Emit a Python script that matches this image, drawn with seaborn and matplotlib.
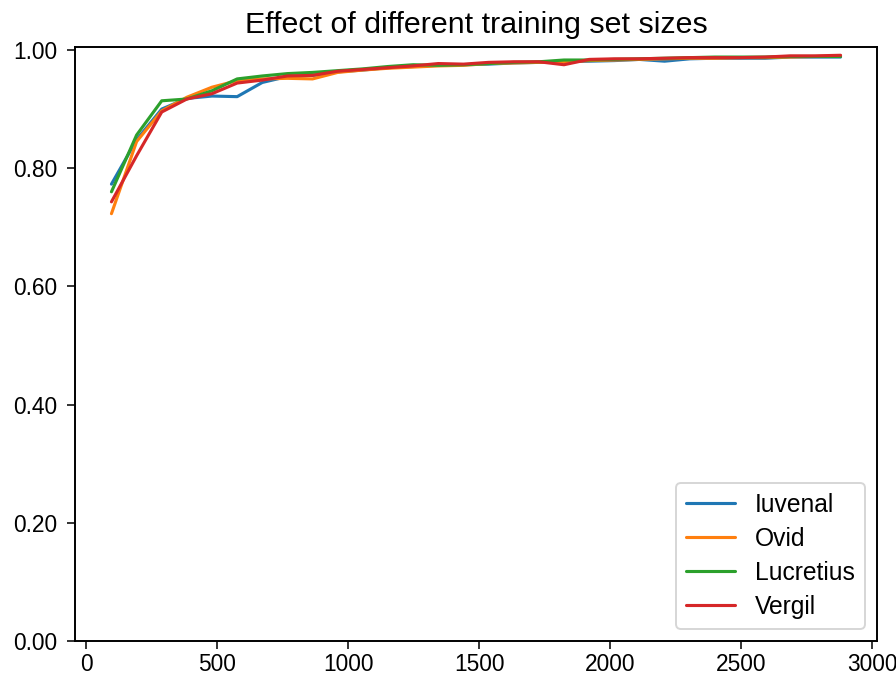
import matplotlib
matplotlib.use("Agg")
import matplotlib.pyplot as plt
import seaborn as sns
import numpy as np
import pandas as pd
from matplotlib.ticker import FormatStrFormatter

sizes = [96 * k for k in range(1, 31)]

iuvenal = [0.773, 0.848, 0.900, 0.918, 0.922, 0.921, 0.945, 0.955, 0.957, 0.963,
           0.966, 0.970, 0.972, 0.974, 0.975, 0.976, 0.978, 0.979, 0.980, 0.981,
           0.982, 0.984, 0.981, 0.985, 0.986, 0.986, 0.986, 0.988, 0.988, 0.988]
ovid = [0.723, 0.845, 0.897, 0.920, 0.937, 0.948, 0.951, 0.952, 0.951, 0.962,
        0.966, 0.969, 0.971, 0.973, 0.974, 0.977, 0.978, 0.979, 0.980, 0.982,
        0.983, 0.984, 0.985, 0.986, 0.986, 0.987, 0.987, 0.988, 0.989, 0.990]
lucretius = [0.760, 0.856, 0.914, 0.917, 0.931, 0.951, 0.956, 0.960, 0.962, 0.965,
             0.968, 0.972, 0.975, 0.974, 0.975, 0.977, 0.979, 0.980, 0.983, 0.983,
             0.984, 0.985, 0.986, 0.987, 0.988, 0.988, 0.988, 0.989, 0.989, 0.989]
vergil = [0.743, 0.821, 0.895, 0.917, 0.926, 0.944, 0.949, 0.956, 0.957, 0.964,
          0.967, 0.970, 0.973, 0.977, 0.976, 0.979, 0.980, 0.980, 0.975, 0.984,
          0.985, 0.985, 0.986, 0.987, 0.987, 0.987, 0.988, 0.990, 0.990, 0.991]

names = ["Iuvenal", "Ovid", "Lucretius", "Vergil"]
series = [iuvenal, ovid, lucretius, vergil]

sns.set_style("ticks", {"axes.edgecolor": "black", "text.color": "black",
                        "xtick.color": "black", "ytick.color": "black",
                        "axes.labelcolor": "black"})
plt.rcParams['font.family'] = ['Liberation Sans', 'DejaVu Sans']
plt.rcParams['font.size'] = 11.7
plt.rcParams['xtick.labelsize'] = 11.7
plt.rcParams['ytick.labelsize'] = 11.7
plt.rcParams['axes.titlesize'] = 15.6
plt.rcParams['legend.fontsize'] = 12.7
plt.rcParams['axes.linewidth'] = 1.0
plt.rcParams['xtick.major.size'] = 4.0
plt.rcParams['ytick.major.size'] = 4.0
plt.rcParams['xtick.major.pad'] = 2.2
plt.rcParams['ytick.major.pad'] = 5.0

fig = plt.figure(figsize=(6.4, 678 / 140), dpi=140)
ax = fig.add_axes([75 / 896, 1 - 641 / 678, (877 - 75) / 896, (641 - 47) / 678])

palette = sns.color_palette("tab10", 4)
for name, vals, col in zip(names, series, palette):
    sns.lineplot(x=sizes, y=vals, ax=ax, label=name, color=col, linewidth=1.6)

ax.set_ylim(0, 1.005)
ax.set_yticks([0, 0.2, 0.4, 0.6, 0.8, 1.0])
ax.yaxis.set_major_formatter(FormatStrFormatter('%.2f'))
ax.set_xticks([0, 500, 1000, 1500, 2000, 2500, 3000])
ax.set_title("Effect of different training set sizes", pad=7)
ax.legend(loc="lower right", labelspacing=0.4)

fig.savefig("out.png", dpi=140)
